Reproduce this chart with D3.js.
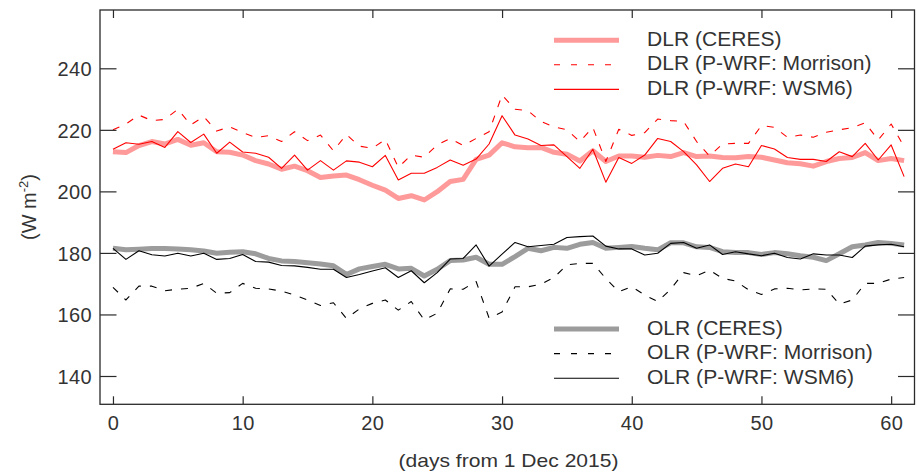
<!DOCTYPE html>
<html>
<head>
<meta charset="utf-8">
<script src="https://cdn.jsdelivr.net/npm/d3@7"></script>
<style>
  html, body { margin: 0; padding: 0; background: #fff; }
  svg { display: block; }
  text { font-family: "Liberation Sans", Arial, Helvetica, sans-serif; fill: #333; }
</style>
</head>
<body>
<svg id="chart" width="917" height="474"></svg>
<script>
// Daily radiative fluxes (W m-2), days 0..61 from 1 Dec 2015
const days = d3.range(0, 62);

const dlrCeres = [212.9, 212.6, 214.9, 216.2, 215.4, 216.9, 215.0, 215.8, 212.9, 212.7,
  211.8, 210.0, 208.9, 207.2, 208.2, 206.7, 204.5, 205.0, 205.3, 203.8,
  202.0, 200.4, 197.7, 198.6, 197.2, 199.9, 203.2, 203.9, 210.4, 211.8,
  215.8, 214.5, 214.2, 214.3, 212.7, 212.1, 209.9, 213.2, 209.7, 211.5,
  211.5, 211.1, 211.7, 211.3, 212.6, 211.3, 211.5, 211.0, 210.9, 211.3,
  211.1, 210.2, 209.3, 209.0, 208.2, 209.7, 210.7, 211.0, 212.6, 210.0,
  210.7, 210.0];

const dlrMorrison = [220.0, 221.9, 224.8, 223.0, 223.4, 226.7, 221.6, 224.3, 219.6, 221.0,
  219.1, 217.5, 218.1, 216.2, 219.4, 216.5, 218.3, 213.2, 218.5, 214.7,
  214.0, 216.9, 207.8, 211.8, 211.1, 215.1, 217.2, 214.9, 217.2, 219.4,
  231.3, 226.7, 226.2, 222.7, 221.0, 220.0, 216.2, 220.8, 209.7, 220.2,
  218.2, 219.1, 223.5, 223.0, 222.7, 216.2, 211.5, 215.4, 215.6, 215.6,
  221.4, 220.8, 217.6, 218.3, 217.6, 219.2, 220.0, 220.7, 222.3, 216.7,
  221.9, 214.5];

const dlrWsm6 = [213.7, 215.8, 215.3, 216.2, 214.3, 219.4, 215.9, 218.6, 212.4, 216.0,
  212.8, 212.4, 211.1, 207.5, 211.8, 206.9, 210.0, 206.9, 209.9, 209.5,
  208.0, 211.7, 203.7, 205.9, 205.9, 207.8, 210.2, 208.5, 210.5, 215.4,
  224.6, 218.3, 217.0, 214.9, 215.1, 211.3, 207.5, 213.7, 203.0, 211.0,
  209.1, 211.8, 217.2, 216.2, 212.9, 208.6, 203.2, 207.5, 208.9, 208.0,
  214.9, 213.8, 211.0, 210.4, 210.4, 209.7, 212.9, 211.3, 215.6, 210.2,
  215.1, 204.8];

const olrCeres = [181.5, 181.0, 181.2, 181.4, 181.4, 181.3, 181.0, 180.6, 179.9, 180.2,
  180.4, 179.7, 178.2, 177.4, 177.2, 176.8, 176.4, 175.8, 173.0, 174.8,
  175.6, 176.3, 174.8, 175.0, 172.5, 174.7, 177.5, 177.7, 178.6, 176.3,
  176.3, 178.8, 181.5, 180.7, 181.8, 181.5, 182.8, 183.4, 181.5, 181.8,
  182.1, 181.5, 181.0, 183.3, 183.3, 182.0, 181.8, 180.4, 180.1, 180.1,
  179.5, 180.1, 179.7, 179.1, 178.6, 177.5, 179.7, 182.0, 182.6, 183.4,
  183.1, 182.6];

const olrMorrison = [168.8, 164.7, 169.2, 169.2, 167.7, 168.2, 168.5, 170.1, 166.9, 167.1,
  170.1, 168.5, 168.3, 167.6, 166.3, 164.7, 162.9, 163.8, 158.7, 161.8,
  163.6, 164.7, 161.4, 164.2, 158.2, 160.4, 168.3, 168.2, 170.7, 158.8,
  160.8, 169.0, 169.0, 169.8, 172.0, 176.1, 176.6, 176.6, 171.7, 167.4,
  169.0, 166.3, 164.2, 168.2, 173.6, 172.6, 174.4, 171.7, 170.9, 168.0,
  166.5, 168.3, 168.5, 168.0, 168.3, 168.2, 163.4, 164.7, 170.1, 170.1,
  171.5, 172.0];

const olrWsm6 = [181.5, 177.9, 180.7, 179.4, 179.0, 179.9, 179.0, 179.9, 177.9, 178.2,
  179.5, 177.2, 177.0, 175.9, 175.8, 175.3, 174.7, 174.7, 172.0, 173.0,
  174.1, 175.2, 172.0, 174.2, 170.3, 173.6, 178.0, 178.2, 182.6, 175.7,
  179.6, 183.4, 182.0, 182.4, 182.8, 185.0, 185.3, 185.5, 182.2, 181.3,
  181.3, 179.3, 179.9, 183.1, 183.4, 181.5, 182.6, 179.5, 180.4, 179.7,
  179.1, 179.9, 178.5, 178.0, 179.7, 179.3, 179.3, 178.5, 182.2, 182.6,
  182.8, 182.0];

const xTicks = [0, 10, 20, 30, 40, 50, 60];
const yTicks = [140, 160, 180, 200, 220, 240];

const dlrLabels = ["DLR (CERES)", "DLR (P-WRF: Morrison)", "DLR (P-WRF: WSM6)"];
const olrLabels = ["OLR (CERES)", "OLR (P-WRF: Morrison)", "OLR (P-WRF: WSM6)"];
const xTitle = "(days from 1 Dec 2015)";

// ---- plot geometry ----
const plotL = 100, plotR = 914.5, plotT = 10, plotB = 404.3;
const svg = d3.select("#chart");
svg.append("rect").attr("width", 917).attr("height", 474).attr("fill", "#fff");

const x = d3.scaleLinear().domain([-1, 61.8]).range([plotL, plotR]);
const y = d3.scaleLinear().domain([130.8, 258.95]).range([plotB, plotT]);

// series styles
const styles = {
  ceresDlr: { color: "#ff9a9a", width: 5, dash: null },
  morrDlr:  { color: "#ff0000", width: 1.1, dash: "7,9" },
  wsmDlr:   { color: "#ff0000", width: 1.1, dash: null },
  ceresOlr: { color: "#9c9c9c", width: 5, dash: null },
  morrOlr:  { color: "#000000", width: 1.1, dash: "7,9" },
  wsmOlr:   { color: "#000000", width: 1.1, dash: null }
};

const series = [
  { vals: dlrCeres, st: styles.ceresDlr },
  { vals: olrCeres, st: styles.ceresOlr },
  { vals: dlrMorrison, st: styles.morrDlr },
  { vals: dlrWsm6, st: styles.wsmDlr },
  { vals: olrMorrison, st: styles.morrOlr },
  { vals: olrWsm6, st: styles.wsmOlr }
];

const line = d3.line().x((d, i) => x(days[i])).y(d => y(d));

const plot = svg.append("g");
series.forEach(s => {
  plot.append("path")
    .attr("d", line(s.vals))
    .attr("fill", "none")
    .attr("stroke", s.st.color)
    .attr("stroke-width", s.st.width)
    .attr("stroke-linejoin", "round")
    .attr("stroke-dasharray", s.st.dash);
});

// ---- axes: ticks inside on all four sides ----
const axisColor = "#2a2a2a";
function styleAxis(g) {
  g.select(".domain").remove();
  g.selectAll(".tick line").attr("stroke", axisColor).attr("stroke-width", 1.2);
  g.selectAll(".tick text")
    .style("font-size", "20px")
    .attr("fill", "#333")
    .style("letter-spacing", "0.4px");
}

svg.append("g").attr("transform", `translate(${plotL},0)`)
  .call(d3.axisLeft(y).tickValues(yTicks).tickSize(-16.5).tickPadding(8).tickFormat(d3.format("d")))
  .call(styleAxis)
  .selectAll(".tick text").attr("dy", "0.36em");

svg.append("g").attr("transform", `translate(${plotR},0)`)
  .call(d3.axisRight(y).tickValues(yTicks).tickSize(-16.5).tickFormat(""))
  .call(styleAxis);

svg.append("g").attr("transform", `translate(0,${plotB})`)
  .call(d3.axisBottom(x).tickValues(xTicks).tickSize(-8).tickPadding(11.5).tickFormat(d3.format("d")))
  .call(styleAxis);

svg.append("g").attr("transform", `translate(0,${plotT})`)
  .call(d3.axisTop(x).tickValues(xTicks).tickSize(-8).tickFormat(""))
  .call(styleAxis);

// frame
svg.append("rect")
  .attr("x", plotL).attr("y", plotT)
  .attr("width", plotR - plotL).attr("height", plotB - plotT)
  .attr("fill", "none").attr("stroke", axisColor).attr("stroke-width", 1.3);

// ---- axis titles ----
svg.append("text")
  .attr("transform", "translate(508.5,467) scale(1.17,1)")
  .attr("text-anchor", "middle")
  .style("font-size", "18px")
  .text(xTitle);

const yTitle = svg.append("text")
  .attr("transform", "translate(36,207) rotate(-90)")
  .attr("text-anchor", "middle")
  .style("font-size", "20px");
yTitle.append("tspan").text("(W m");
yTitle.append("tspan").attr("dy", -8).style("font-size", "13px").text("-2");
yTitle.append("tspan").attr("dy", 8).text(")");

// ---- legends ----
function legend(labels, sts, y0) {
  labels.forEach((lab, i) => {
    const ly = y0 + i * 24.6;
    svg.append("line")
      .attr("x1", 554).attr("x2", 619).attr("y1", ly).attr("y2", ly)
      .attr("stroke", sts[i].color)
      .attr("stroke-width", sts[i].width)
      .attr("stroke-dasharray", sts[i].dash ? "6,11" : null);
    svg.append("text")
      .attr("transform", `translate(647,${ly + 5.6}) scale(1.08,1)`)
      .style("font-size", "19.5px")
      .text(lab);
  });
}
legend(dlrLabels, [styles.ceresDlr, styles.morrDlr, styles.wsmDlr], 40.2);
legend(olrLabels, [styles.ceresOlr, styles.morrOlr, styles.wsmOlr], 329);
</script>
</body>
</html>
